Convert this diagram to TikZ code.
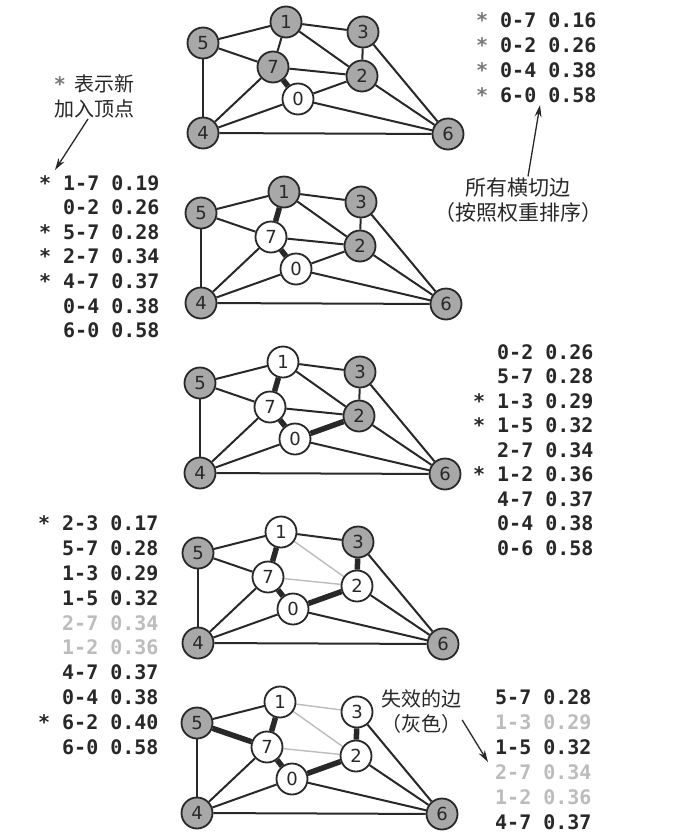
\documentclass[tikz,border=0pt]{standalone}
\usepackage{fontspec}
\usetikzlibrary{arrows.meta,backgrounds}
\newfontfamily\cjk{Noto Sans CJK SC}
\newfontfamily\listfont{DejaVu Sans Mono}
\newfontfamily\vfont{DejaVu Sans}
\definecolor{ink}{RGB}{40,40,40}
\definecolor{nodegray}{RGB}{168,168,168}
\definecolor{deadgray}{RGB}{188,188,188}
\definecolor{stargray}{RGB}{120,120,120}
\newcommand\mypanel[4]{%
  \begin{scope}[shift={(#2,#3)}]
  \foreach \vi/\vx/\vy in {0/298/99,1/286/22,2/362/76,3/363/32,4/203/133,5/203/43,6/448/134,7/273/67}{
    \pgfmathtruncatemacro\isw{{#4}[\vi]}
    \ifnum\isw=1 \def\fc{white}\else\def\fc{nodegray}\fi
    \node[vtx,fill=\fc] (#1\vi) at (\vx,\vy) {\vi};
  }
  \end{scope}}
\begin{document}
\begin{tikzpicture}[x=1pt,y=-1pt,
  vtx/.style={circle,draw=ink,line width=1.8pt,minimum size=31pt,inner sep=0pt,
    font=\vfont\fontsize{18}{18}\selectfont,text=ink},
  edge/.style={draw=ink,line width=2pt},
  tree/.style={draw=ink,line width=5.5pt},
  dead/.style={draw=deadgray,line width=1.4pt},
  row/.style={anchor=base west,inner sep=0pt,font=\listfont\bfseries\fontsize{20}{24}\selectfont,text=ink},
  gone/.style={row,text=deadgray},
  cjklab/.style={align=center,inner sep=1pt,font=\cjk\fontsize{20}{25}\selectfont,text=ink},
  arrowline/.style={draw=ink,line width=1.3pt,-{Stealth[length=12pt,width=7pt]}}]
\useasboundingbox (0,0) rectangle (673,833);
\begin{pgfonlayer}{background}
\fill[white] (0,0) rectangle (673,833);
\end{pgfonlayer}

\mypanel{A}{0}{0}{1,0,0,0,0,0,0,0}
\mypanel{B}{-2}{170}{1,0,0,0,0,0,0,1}
\mypanel{C}{-3}{340}{1,1,0,0,0,0,0,1}
\mypanel{D}{-5}{510}{1,1,1,0,0,0,0,1}
\mypanel{E}{-6}{680}{1,1,1,1,0,0,0,1}

\begin{pgfonlayer}{background}
\foreach \a/\b in {5/1,1/3,1/7,1/2,5/7,5/4,7/2,7/4,3/2,3/6,2/0,2/6,0/4,0/6,4/6} \draw[edge] (A\a)--(A\b);
\draw[tree] (A7)--(A0);
\foreach \a/\b in {5/1,1/3,1/2,5/7,5/4,7/2,7/4,3/2,3/6,2/0,2/6,0/4,0/6,4/6} \draw[edge] (B\a)--(B\b);
\foreach \a/\b in {1/7,7/0} \draw[tree] (B\a)--(B\b);
\foreach \a/\b in {5/1,1/3,1/2,5/7,5/4,7/2,7/4,3/2,3/6,2/6,0/4,0/6,4/6} \draw[edge] (C\a)--(C\b);
\foreach \a/\b in {1/7,7/0,0/2} \draw[tree] (C\a)--(C\b);
\foreach \a/\b in {5/1,1/3,5/7,5/4,7/4,3/6,2/6,0/4,0/6,4/6} \draw[edge] (D\a)--(D\b);
\foreach \a/\b in {1/2,7/2} \draw[dead] (D\a)--(D\b);
\foreach \a/\b in {1/7,7/0,0/2,2/3} \draw[tree] (D\a)--(D\b);
\foreach \a/\b in {5/1,5/4,7/4,3/6,2/6,0/4,0/6,4/6} \draw[edge] (E\a)--(E\b);
\foreach \a/\b in {1/3,1/2,7/2} \draw[dead] (E\a)--(E\b);
\foreach \a/\b in {1/7,7/0,0/2,2/3,5/7} \draw[tree] (E\a)--(E\b);
\end{pgfonlayer}

% panel 1 list
\node[row] (la1) at (500,27) {\llap{\color{stargray}*\ }0-7 0.16};
\node[row] (la2) at (500,52) {\llap{\color{stargray}*\ }0-2 0.26};
\node[row] (la3) at (500,77) {\llap{\color{stargray}*\ }0-4 0.38};
\node[row] (la4) at (500,102) {\llap{\color{stargray}*\ }6-0 0.58};
\node[cjklab,font=\cjk\fontsize{21}{25}\selectfont] (cut) at (518,200) {所有横切边\\（按照权重排序）};
\coordinate (cuttip) at (540,105);
\draw[arrowline] ([xshift=10pt]cut.north) -- (cuttip);

% panel 2 list
\node[cjklab] (newlab) at (94,96) {{\listfont\bfseries\color{stargray}*}\hspace{8pt}表示新\\加入顶点};
\coordinate (newtip) at (55,170);
\draw[arrowline] ([xshift=-6pt]newlab.south) -- (newtip);
\node[row] (lb1) at (63,190) {\llap{*\ }1-7 0.19};
\node[row] (lb2) at (63,214.6) {0-2 0.26};
\node[row] (lb3) at (63,239.2) {\llap{*\ }5-7 0.28};
\node[row] (lb4) at (63,263.8) {\llap{*\ }2-7 0.34};
\node[row] (lb5) at (63,288.4) {\llap{*\ }4-7 0.37};
\node[row] (lb6) at (63,313) {0-4 0.38};
\node[row] (lb7) at (63,337.6) {6-0 0.58};

% panel 3 list
\node[row] (lc1) at (497,359) {0-2 0.26};
\node[row] (lc2) at (497,383.5) {5-7 0.28};
\node[row] (lc3) at (497,408) {\llap{*\ }1-3 0.29};
\node[row] (lc4) at (497,432.5) {\llap{*\ }1-5 0.32};
\node[row] (lc5) at (497,457) {2-7 0.34};
\node[row] (lc6) at (497,481.5) {\llap{*\ }1-2 0.36};
\node[row] (lc7) at (497,506) {4-7 0.37};
\node[row] (lc8) at (497,530.5) {0-4 0.38};
\node[row] (lc9) at (497,555) {0-6 0.58};

% panel 4 list
\node[row] (ld1) at (62,530) {\llap{*\ }2-3 0.17};
\node[row] (ld2) at (62,555) {5-7 0.28};
\node[row] (ld3) at (62,580) {1-3 0.29};
\node[row] (ld4) at (62,605) {1-5 0.32};
\node[gone] (ld5) at (62,630) {2-7 0.34};
\node[gone] (ld6) at (62,654) {1-2 0.36};
\node[row] (ld7) at (62,679) {4-7 0.37};
\node[row] (ld8) at (62,704) {0-4 0.38};
\node[row] (ld9) at (62,729) {\llap{*\ }6-2 0.40};
\node[row] (ld10) at (62,754) {6-0 0.58};

% panel 5 list
\node[cjklab] (deadlab) at (421,712) {失效的边\\（灰色）};
\coordinate (deadtip) at (488,762);
\draw[arrowline] ([yshift=-8pt]deadlab.east) -- (deadtip);
\node[row] (le1) at (495,704) {5-7 0.28};
\node[gone] (le2) at (495,729) {1-3 0.29};
\node[row] (le3) at (495,754) {1-5 0.32};
\node[gone] (le4) at (495,779) {2-7 0.34};
\node[gone] (le5) at (495,804) {1-2 0.36};
\node[row] (le6) at (495,829) {4-7 0.37};
\end{tikzpicture}
\end{document}
